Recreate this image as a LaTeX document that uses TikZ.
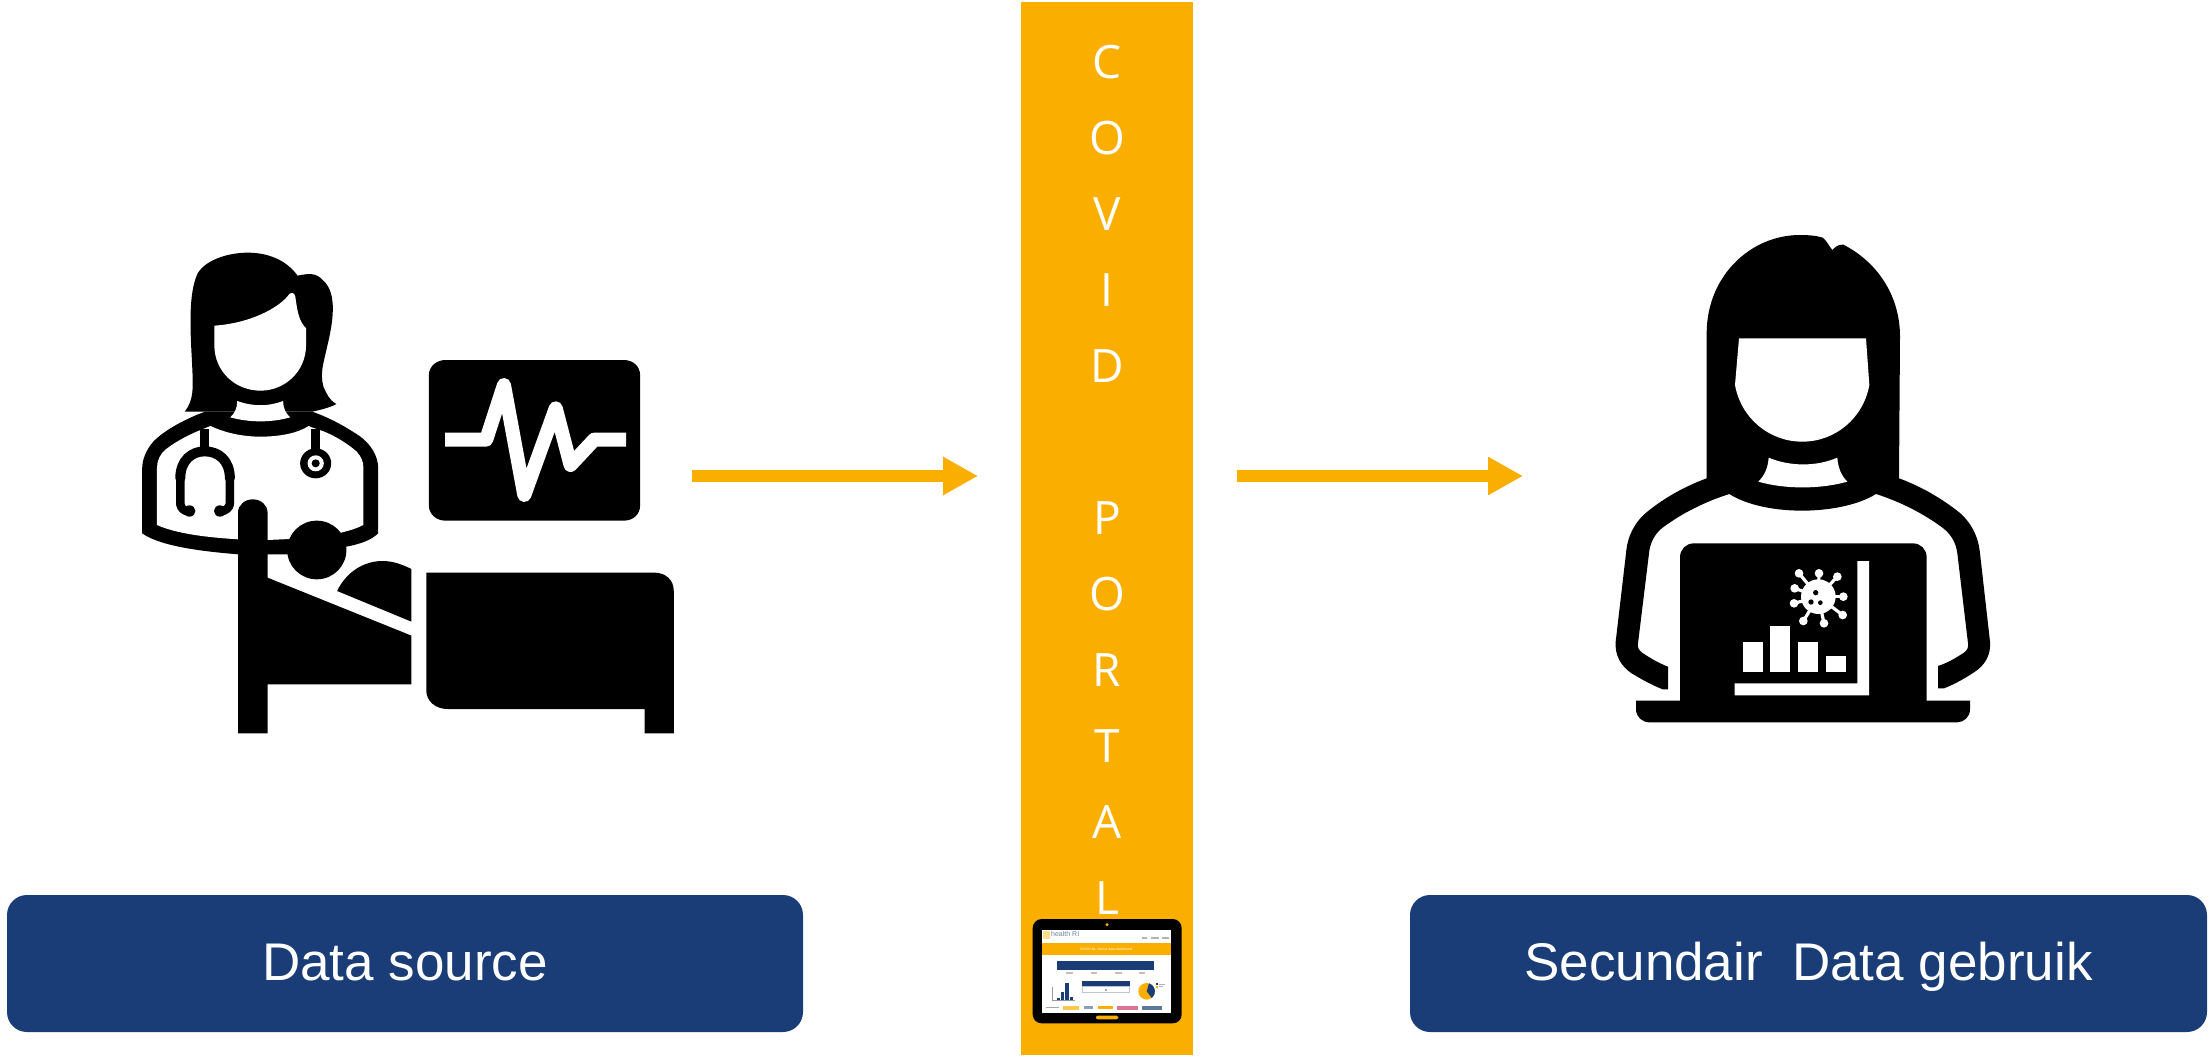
\documentclass[tikz,border=0pt]{standalone}
\usepackage{fontspec}
\setmainfont{Liberation Sans}
\newfontfamily\portalfont{Open Sans}
\usetikzlibrary{arrows.meta}
\definecolor{portalorange}{HTML}{FAAF00}
\definecolor{navy}{HTML}{1A3D77}
\tikzset{
  labelbox/.style={fill=navy,text=white,rounded corners=20pt,inner sep=0pt,outer sep=0pt,minimum height=137pt,
    text height=38pt,text depth=5pt,font=\fontsize{53}{60}\selectfont},
  flow/.style={draw=portalorange,line width=12pt,-{Triangle[length=35pt,width=36pt,fill=portalorange]}},
  portalletter/.style={text=white,inner sep=0pt,anchor=base,font=\portalfont\fontsize{46}{50}\selectfont},
  ecg/.style={draw=white,line width=14pt,line join=round},
  tube/.style={draw=black,line width=8.5pt,line cap=round,line join=round},
}
\begin{document}
\begin{tikzpicture}[x=1pt,y=-1pt]
\useasboundingbox (0,0) rectangle (2211,1057);
\fill[white] (0,0) rectangle (2211,1057);

% portal column
\node[fill=portalorange,inner sep=0pt,outer sep=0pt,minimum width=172pt,minimum height=1053pt] (portal) at (1107,528.5) {};
\foreach \ch/\yy/\nm in {C/78/a,O/154/b,V/230/c,I/306/d,D/382/e,P/534/f,O/610/g,R/686/h,T/762/i,A/838/j,L/914/k}
  \node[portalletter] (letter\nm) at (1107,\yy) {\ch};

% label boxes
\node[labelbox,minimum width=796pt] (source) at (405,963.5) {Data source};
\node[labelbox,minimum width=797pt] (secondary) at (1808.5,963.5) {Secundair\ \ Data gebruik};

% arrows
\coordinate (arrowAstart) at (692,476);
\coordinate (arrowAend) at (978,476);
\coordinate (arrowBstart) at (1237,476);
\coordinate (arrowBend) at (1523,476);
\draw[flow] (arrowAstart) -- (arrowAend);
\draw[flow] (arrowBstart) -- (arrowBend);

% doctor, patient, monitor
\begin{scope}[shift={(120,230)},xscale=0.36990,yscale=0.33333]
\fill (175,545) .. controls (200,510) and (197,470) .. (196,430) .. controls (193,340) and (180,200) .. (210,130)
  .. controls (235,85) and (300,68) .. (345,68) .. controls (400,68) and (450,90) .. (480,137)
  .. controls (510,130) and (530,128) .. (548,150) .. controls (590,190) and (575,280) .. (560,350)
  .. controls (550,400) and (540,430) .. (550,470) .. controls (558,490) and (565,510) .. (585,522)
  .. controls (570,532) and (540,540) .. (520,545) -- (230,545) -- cycle;
\fill (230,545) .. controls (180,565) and (120,600) .. (90,635) .. controls (70,660) and (60,690) .. (60,715)
  -- (60,910) .. controls (110,950) and (230,965) .. (320,973) -- (460,973) -- (612,950)
  .. controls (650,942) and (680,930) .. (698,910) -- (698,715) .. controls (698,680) and (680,645) .. (650,620)
  .. controls (610,590) and (570,565) .. (520,545) -- cycle;
% shirt
\fill[white] (245,588) .. controls (290,612) and (340,620) .. (380,620) .. controls (430,620) and (480,610) .. (510,588)
  -- (518,592) -- (540,600) .. controls (580,615) and (620,645) .. (640,665) .. controls (652,680) and (658,695) .. (658,712)
  -- (658,885) .. controls (640,895) and (620,902) .. (597,908) -- (500,925) -- (399,930) -- (320,928)
  .. controls (230,922) and (150,910) .. (100,885) -- (100,712) .. controls (100,690) and (110,670) .. (125,657)
  .. controls (150,635) and (190,612) .. (218,600) -- (240,590) -- cycle;
% face
\fill[white] (255,287) .. controls (350,280) and (430,235) .. (458,192) .. controls (465,185) and (472,190) .. (474,200)
  .. controls (480,250) and (485,275) .. (503,295) -- (503,345) .. controls (503,425) and (445,482) .. (380,482)
  .. controls (312,482) and (255,425) .. (255,345) -- cycle;
% neck
\fill[white] (317,513) .. controls (360,530) and (400,530) .. (441,513) .. controls (441,535) and (448,550) .. (460,562)
  .. controls (410,578) and (350,578) .. (298,562) .. controls (310,550) and (317,535) .. (317,513) -- cycle;
% stethoscope
\draw[tube,line cap=butt] (229,598) -- (229,660);
\draw[tube,line width=10pt] (163,745) .. controls (163,690) and (195,664) .. (229,664) .. controls (265,664) and (297,690) .. (297,745);
\draw[tube] (163,745) -- (163,822) .. controls (165,835) and (172,842) .. (185,845);
\draw[tube] (297,745) -- (297,822) .. controls (295,835) and (285,842) .. (272,845);
\fill (188,843) ellipse[x radius=16,y radius=17];
\fill (270,843) ellipse[x radius=16,y radius=17];
\draw[tube,line cap=butt] (529,598) -- (529,665);
\fill (529,700) ellipse[x radius=42,y radius=45];
\fill[white] (529,700) ellipse[x radius=22,y radius=24];
\fill (529,700) ellipse[x radius=11,y radius=12];
% bed frame and blanket
\fill (319,1510) -- (319,848) .. controls (319,825) and (337,808) .. (359,808) .. controls (381,808) and (399,825) .. (399,848)
  -- (399,1043) -- (788,1217) -- (788,1363) -- (399,1363) -- (399,1510) -- cycle;
\fill (532,960) ellipse[x radius=80,y radius=88];
\fill (587,1083) .. controls (610,1030) and (655,993) .. (710,993) .. controls (740,993) and (765,1005) .. (788,1017) -- (788,1175) -- cycle;
\fill (828,1028) -- (1445,1028) .. controls (1475,1028) and (1497,1050) .. (1497,1082) -- (1497,1510) -- (1418,1510) -- (1418,1437)
  -- (885,1437) .. controls (852,1437) and (828,1412) .. (828,1382) -- cycle;
% monitor
\fill (880,390) -- (1362,390) .. controls (1388,390) and (1406,410) .. (1406,435) -- (1406,827) .. controls (1406,852) and (1388,872) .. (1362,872)
  -- (880,872) .. controls (855,872) and (835,852) .. (835,827) -- (835,435) .. controls (835,410) and (855,390) .. (880,390) -- cycle;
\draw[ecg] (879,629) -- (990,629) -- (1038,465) -- (1093,795) -- (1178,535) -- (1218,705) -- (1282,629) -- (1368,629);
\end{scope}

% secondary user with laptop
\begin{scope}[shift={(1600,220)},scale=0.33333]
\fill (320,775) -- (320,340) .. controls (320,170) and (450,45) .. (600,45) .. controls (625,45) and (650,47) .. (668,53) .. controls (680,62) and (688,80) .. (697,90)
  .. controls (705,82) and (715,72) .. (730,74) .. controls (830,125) and (900,225) .. (900,350) -- (897,775)
  .. controls (960,798) and (1020,832) .. (1075,875) .. controls (1115,908) and (1135,950) .. (1140,1000)
  -- (1170,1265) .. controls (1173,1305) and (1155,1335) .. (1125,1355) .. controls (1095,1375) and (1065,1392) .. (1032,1405)
  -- (1014,1405) -- (1014,1338) .. controls (1045,1328) and (1070,1312) .. (1092,1298) .. controls (1102,1290) and (1106,1282) .. (1104,1270)
  -- (1072,1000) .. controls (1068,970) and (1055,945) .. (1030,925) .. controls (970,880) and (900,845) .. (828,822)
  .. controls (770,858) and (680,872) .. (607,872) .. controls (530,872) and (445,858) .. (388,822)
  .. controls (315,845) and (245,880) .. (185,925) .. controls (162,945) and (150,970) .. (147,1000)
  -- (114,1270) .. controls (112,1282) and (116,1290) .. (126,1298) .. controls (148,1312) and (172,1328) .. (204,1340)
  -- (204,1408) -- (188,1408) .. controls (155,1395) and (125,1378) .. (95,1360) .. controls (62,1338) and (44,1305) .. (47,1265)
  -- (78,1000) .. controls (82,950) and (102,908) .. (142,875) .. controls (195,832) and (257,798) .. (320,775) -- cycle;
% face
\fill[white] (417,355) -- (798,355) -- (808,495) .. controls (790,595) and (705,665) .. (607,665) .. controls (508,665) and (423,595) .. (405,495) -- cycle;
% neck
\fill[white] (506,713) .. controls (570,740) and (650,740) .. (712,713) .. controls (714,745) and (725,768) .. (742,785)
  .. controls (660,808) and (555,808) .. (475,785) .. controls (492,768) and (504,745) .. (506,713) -- cycle;
% laptop
\fill (240,1442) -- (240,1012) .. controls (240,988) and (258,970) .. (282,970) -- (938,970) .. controls (962,970) and (980,988) .. (980,1012) -- (980,1442)
  -- (1110,1442) -- (1110,1468) .. controls (1110,1490) and (1092,1507) .. (1072,1507) -- (148,1507) .. controls (126,1507) and (108,1490) .. (108,1468) -- (108,1442) -- cycle;
\fill[white] (772,1023) -- (807,1023) -- (807,1426) -- (404,1426) -- (404,1390) -- (772,1390) -- cycle;
\fill[white] (429,1266) rectangle (490,1356);
\fill[white] (510,1218) rectangle (570,1356);
\fill[white] (594,1266) rectangle (654,1356);
\fill[white] (678,1308) rectangle (738,1356);
% virus
\fill[white] (655,1130) circle[radius=52];
\foreach \vx/\vy in {597/1060,657/1060,712/1070,730/1130,728/1185,672/1210,610/1203,582/1150,584/1105}{
  \draw[white,line width=3.2pt] (655,1130) -- (\vx,\vy);
  \fill[white] (\vx,\vy) circle[radius=13];
}
\fill (647,1118) circle[radius=8];
\fill (633,1146) circle[radius=8];
\fill (661,1148) circle[radius=7];
\end{scope}

% tablet with dashboard
\begin{scope}[shift={(1020,900)},scale=0.33333]
\fill (65,57) -- (458,57) .. controls (474,57) and (485,70) .. (485,84) -- (485,343) .. controls (485,358) and (474,370) .. (458,370)
  -- (65,370) .. controls (50,370) and (38,358) .. (38,343) -- (38,84) .. controls (38,70) and (50,57) .. (65,57) -- cycle;
\fill[white] (66,90) rectangle (453,338);
\fill[portalorange] (261,74) circle[radius=5];
\fill[portalorange] (234,347) -- (290,347) .. controls (298,347) and (298,358) .. (290,358) -- (234,358) .. controls (226,358) and (226,347) .. (234,347) -- cycle;
\fill[portalorange!45] (68,92) rectangle (90,118);
\node[text=navy!65,inner sep=0pt,anchor=west,font=\fontsize{7}{8}\selectfont] (brand) at (93,101) {health RI};
\fill[black!30] (365,112) rectangle (382,116);
\fill[black!30] (392,110) rectangle (418,117);
\fill[black!30] (427,112) rectangle (447,116);
\fill[portalorange] (66,130) rectangle (453,165);
\node[text=white,inner sep=0pt,font=\fontsize{3.4}{4}\selectfont] (dashtitle) at (258,147) {COVID-NL clinical data dashboard};
\fill[navy] (112,183) rectangle (403,209);
\fill[black!25] (138,217) rectangle (160,221);
\fill[black!25] (212,217) rectangle (232,221);
\fill[black!25] (285,217) rectangle (305,221);
\fill[black!25] (358,217) rectangle (376,221);
\fill[navy] (186,243) rectangle (329,258);
\draw[navy!30,line width=0.4pt] (186,258) rectangle (329,278);
\fill[black!35] (255,268) rectangle (261,273);
\draw[black!40,line width=0.4pt] (98,260) -- (98,301) -- (165,301);
\fill[navy] (110,295) rectangle (120,301);
\fill[navy] (122,275) rectangle (133,301);
\fill[navy] (135,248) rectangle (146,301);
\fill[navy] (149,290) rectangle (158,301);
\fill[portalorange] (380,274) circle[radius=25];
\fill[navy] (380,274) -- (387,250) arc[start angle=-73,end angle=52,radius=25] -- cycle;
\fill[navy] (408,250) rectangle (414,255);
\fill[portalorange] (408,258) rectangle (414,263);
\fill[black!30] (416,251) rectangle (434,254);
\fill[black!30] (416,259) rectangle (430,262);
\fill[black!35] (78,322) rectangle (118,325);
\fill[portalorange!70] (130,317) rectangle (178,329);
\fill[navy!50] (192,319) rectangle (220,328);
\fill[portalorange] (235,317) rectangle (280,327);
\fill[purple!55] (290,318) rectangle (355,329);
\fill[navy!70] (367,318) rectangle (425,329);
\end{scope}
\end{tikzpicture}
\end{document}
